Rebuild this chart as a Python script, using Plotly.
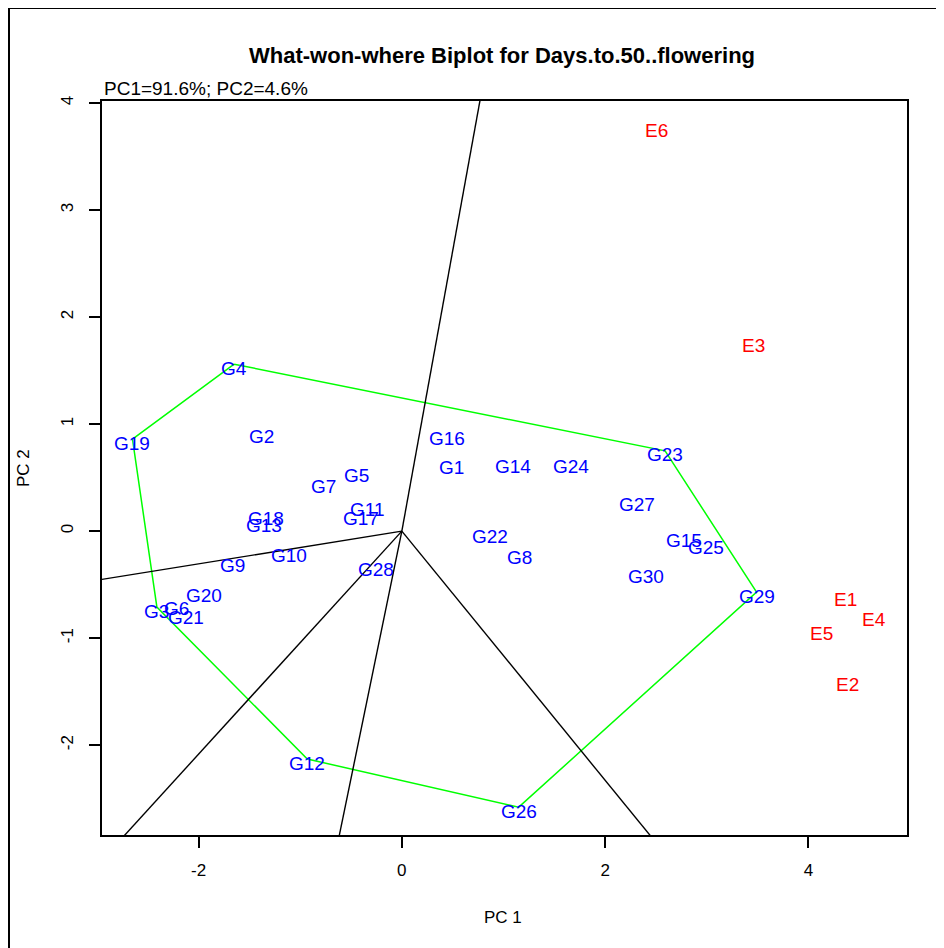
import numpy as np
import plotly.graph_objects as go

# Genotype scores (PC1, PC2)
gen_names = ["G1","G2","G3","G4","G5","G6","G7","G8","G9","G10",
             "G11","G12","G13","G14","G15","G16","G17","G18","G19","G20",
             "G21","G22","G23","G24","G25","G26","G27","G28","G29","G30"]
gen_pc1 = [0.49,-1.38,-2.41,-1.65,-0.45,-2.22,-0.77,1.16,-1.67,-1.11,
           -0.34,-0.93,-1.36,1.09,2.78,0.44,-0.40,-1.34,-2.65,-1.95,
           -2.12,0.87,2.59,1.66,2.99,1.15,2.31,-0.25,3.49,2.40]
gen_pc2 = [0.63,0.92,-0.71,1.56,0.56,-0.69,0.45,-0.21,-0.28,-0.19,
           0.24,-2.13,0.09,0.64,-0.05,0.90,0.16,0.16,0.86,-0.56,
           -0.77,-0.01,0.75,0.64,-0.12,-2.58,0.29,-0.32,-0.57,-0.39]

# Environment scores (PC1, PC2)
env_names = ["E1","E2","E3","E4","E5","E6"]
env_pc1 = [4.36,4.38,3.46,4.65,4.13,2.51]
env_pc2 = [-0.60,-1.40,1.77,-0.79,-0.92,3.78]

# Convex hull (polygon) vertices, in order
hull_names = ["G4","G23","G29","G26","G12","G3","G19"]

title_text = "What-won-where Biplot for Days.to.50..flowering"
subtitle_text = "PC1=91.6%; PC2=4.6%"
x_ticks = [-2, 0, 2, 4]
y_ticks = [-2, -1, 0, 1, 2, 3, 4]
x_range = [-2.95, 4.97]
y_range = [-2.84, 4.02]

FONT = "Liberation Sans, Arial, sans-serif"

fig = go.Figure()

idx = {n: i for i, n in enumerate(gen_names)}
hx = [gen_pc1[idx[n]] for n in hull_names] + [gen_pc1[idx[hull_names[0]]]]
hy = [gen_pc2[idx[n]] for n in hull_names] + [gen_pc2[idx[hull_names[0]]]]

fig.add_trace(go.Scatter(x=hx, y=hy, mode="lines",
                         line=dict(color="#00ff00", width=1.5),
                         hoverinfo="skip", showlegend=False))

# Perpendicular rays from origin to hull sides (only where the foot lies on the side)
for i in range(len(hull_names)):
    p = np.array([hx[i], hy[i]])
    q = np.array([hx[i + 1], hy[i + 1]])
    d = q - p
    t = np.dot(-p, d) / np.dot(d, d)
    if 0 <= t <= 1:
        foot = p + t * d
        end = foot * 50
        fig.add_trace(go.Scatter(x=[0, end[0]], y=[0, end[1]], mode="lines",
                                 line=dict(color="black", width=1.4),
                                 hoverinfo="skip", showlegend=False))

# Point labels (text centred visually on the score position)
label_annots = []
for names, xs, ys, col in [(gen_names, gen_pc1, gen_pc2, "#0000ff"),
                           (env_names, env_pc1, env_pc2, "#ff0000")]:
    for n, xv, yv in zip(names, xs, ys):
        label_annots.append(dict(text=n, x=xv, y=yv, xref="x", yref="y",
                                 xanchor="center", yanchor="middle", yshift=-4,
                                 showarrow=False,
                                 font=dict(size=19, family=FONT, color=col)))

axis_common = dict(showgrid=False, zeroline=False, showline=True, mirror=True,
                   linecolor="black", linewidth=2, ticks="outside",
                   ticklen=11, tickwidth=1.5, tickcolor="black",
                   tickfont=dict(size=17, family=FONT, color="black"))

fig.update_xaxes(range=x_range, tickvals=x_ticks, ticktext=[str(v) for v in x_ticks],
                 ticklabelstandoff=8, **axis_common)
fig.update_yaxes(range=y_range, tickvals=y_ticks, ticktext=[str(v) for v in y_ticks],
                 tickangle=-90, ticklabelstandoff=9, **axis_common)

# page has an 8px body margin: figure origin sits at page (8, 8)
OFF = 8
W, H = 944, 948
L = 102 - OFF
T = 101 - OFF
R = W - (907 - OFF)
B = H - (835 - OFF)
pw, ph = W - L - R, H - T - B

def px2paper_x(px_page):
    return (px_page - OFF - L) / pw

def px2paper_y(py_page):
    return (H - B - (py_page - OFF)) / ph

fig.update_layout(
    width=W, height=H,
    margin=dict(l=L, r=R, t=T, b=B, pad=0),
    plot_bgcolor="white", paper_bgcolor="white",
    font=dict(family=FONT, color="black"),
    annotations=label_annots + [
        dict(text="<b>" + title_text + "</b>", xref="paper", yref="paper",
             x=px2paper_x(502), y=px2paper_y(56), xanchor="center", yanchor="middle",
             showarrow=False, font=dict(size=22, family=FONT, color="black")),
        dict(text=subtitle_text, xref="paper", yref="paper",
             x=0, y=px2paper_y(89), xanchor="left", yanchor="middle",
             showarrow=False, font=dict(size=19, family=FONT, color="black")),
        dict(text="PC 1", xref="paper", yref="paper",
             x=px2paper_x(503), y=px2paper_y(917), xanchor="center", yanchor="middle",
             showarrow=False, font=dict(size=17, family=FONT, color="black")),
        dict(text="PC 2", xref="paper", yref="paper",
             x=px2paper_x(23), y=px2paper_y(468), xanchor="center", yanchor="middle",
             textangle=-90,
             showarrow=False, font=dict(size=17, family=FONT, color="black")),
    ],
    shapes=[
        dict(type="rect", xref="paper", yref="paper",
             x0=px2paper_x(9), x1=px2paper_x(1000),
             y0=px2paper_y(1000), y1=px2paper_y(8),
             line=dict(color="black", width=2), fillcolor="rgba(0,0,0,0)",
             layer="above"),
    ],
)

fig.write_html("out.html")
